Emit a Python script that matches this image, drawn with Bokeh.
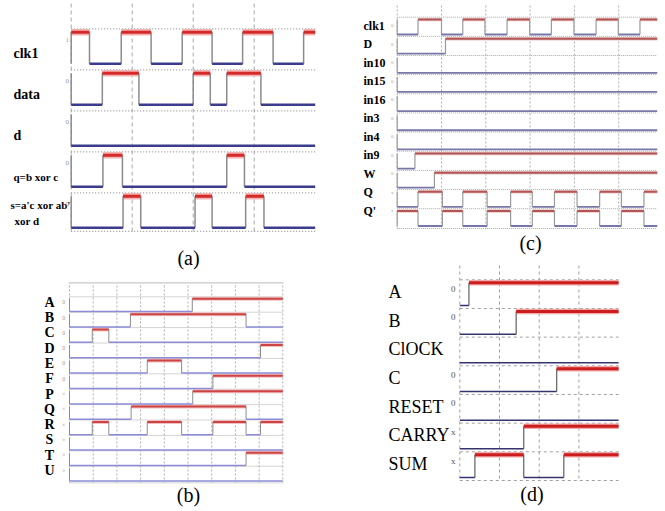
from bokeh.plotting import figure
from bokeh.layouts import row, column
from bokeh.models import Range1d
from bokeh.core.properties import value
from bokeh.embed import file_html
from bokeh.resources import INLINE

# ---------------- data ----------------
# panel (a)
a_labels = ["clk1", "data", "d", "q=b xor c", "s=a'c xor ab'\nxor d"]
a_marks = ["1", "0", "0", "0", "0"]
a_init = [1, 0, 0, 0, 0]
a_edges = [
    [0.30, 0.82, 1.31, 1.82, 2.31, 2.81, 3.31, 3.81],
    [0.51, 1.11, 2.00, 2.28, 2.55, 3.11],
    [],
    [0.52, 0.84, 2.55, 2.84],
    [0.85, 1.14, 2.03, 2.31, 2.86, 3.16],
]
a_tmax = 4.0

# panel (c)
c_labels = ["clk1", "D", "in10", "in15", "in16", "in3", "in4", "in9", "W", "Q", "Q'"]
c_marks = ["0", "0", "0", "0", "0", "0", "0", "0", "0", "x", "x"]
c_init = [0, 0, 0, 0, 0, 0, 0, 0, 0, 0, 1]
c_edges = [
    [0.47, 1.00, 1.48, 1.98, 2.48, 2.99, 3.48, 3.99, 4.49, 4.99, 5.48],
    [1.09],
    [], [], [], [], [],
    [0.40],
    [0.84],
    [0.47, 1.02, 1.48, 2.03, 2.56, 3.05, 3.55, 4.06, 4.57, 5.06, 5.57],
    [0.47, 1.02, 1.48, 2.03, 2.56, 3.05, 3.55, 4.06, 4.57, 5.06, 5.57],
]
c_tmax = 5.87

# panel (b)
b_labels = ["A", "B", "C", "D", "E", "F", "P", "Q", "R", "S", "T", "U"]
b_marks = ["0", "0", "0", "0", "0", "0", "×", "×", "×", "×", "×", "×"]
b_init = [0] * 12
b_edges = [
    [5.18],
    [2.57, 7.45],
    [0.96, 1.66],
    [8.06],
    [3.28, 4.73],
    [6.05],
    [5.20],
    [2.60, 7.45],
    [0.96, 1.66, 3.28, 4.73, 6.05, 7.45, 8.06],
    [],
    [7.45],
    [],
]
b_tmax = 9.0

# panel (d)
d_labels = ["A", "B", "ClOCK", "C", "RESET", "CARRY", "SUM"]
d_marks = ["0", "0", "", "0", "0", "x", "x"]
d_init = [0] * 7
d_edges = [
    [0.23],
    [1.42],
    [],
    [2.44],
    [],
    [1.61],
    [0.38, 1.61, 2.62],
]
d_tmax = 4.0

captions = ["(a)", "(b)", "(c)", "(d)"]

SERIF = value("Liberation Serif")


class Panel:
    def __init__(self, sx, sy, W, H, x0px, xscale, t0px, pitch, hi_off, lo_off):
        self.x0px, self.xscale, self.t0px, self.pitch = x0px, xscale, t0px, pitch
        self.hi_f = hi_off / pitch
        self.lo_f = lo_off / pitch
        p = figure(width=W, height=H, output_backend="svg", toolbar_location=None,
                   x_axis_location=None, y_axis_location=None, min_border=0,
                   title_location=None,
                   x_range=Range1d((sx - x0px) / xscale, (sx + W - x0px) / xscale),
                   y_range=Range1d((sy + H - t0px) / pitch, (sy - t0px) / pitch))
        p.outline_line_color = None
        p.grid.visible = False
        p.background_fill_color = "white"
        p.border_fill_color = "white"
        self.p = p

    def X(self, px):
        return (px - self.x0px) / self.xscale

    def Y(self, py):
        return (py - self.t0px) / self.pitch


def draw_waves(pn, inits, edges, tmax, hi_c, hi_w, glow_c, glow_w, lo_c, lo_w, tr_c, tr_w,
               left_edge=True):
    hx0, hx1, hy = [], [], []
    lx0, lx1, ly = [], [], []
    tx, ty0, ty1 = [], [], []
    for i, (init, ed) in enumerate(zip(inits, edges)):
        yh = i + pn.hi_f
        yl = i + pn.lo_f
        bounds = [0.0] + list(ed) + [tmax]
        lvl = init
        for k in range(len(bounds) - 1):
            if lvl:
                hx0.append(bounds[k]); hx1.append(bounds[k + 1]); hy.append(yh)
            else:
                lx0.append(bounds[k]); lx1.append(bounds[k + 1]); ly.append(yl)
            lvl = 1 - lvl
        vts = ([0.0] if left_edge else []) + list(ed)
        for t in vts:
            tx.append(t); ty0.append(yh); ty1.append(yl)
    p = pn.p
    if glow_c:
        p.segment(x0=hx0, x1=hx1, y0=hy, y1=hy, line_color=glow_c, line_width=glow_w)
    p.segment(x0=tx, x1=tx, y0=ty0, y1=ty1, line_color=tr_c, line_width=tr_w)
    p.segment(x0=lx0, x1=lx1, y0=ly, y1=ly, line_color=lo_c, line_width=lo_w)
    p.segment(x0=hx0, x1=hx1, y0=hy, y1=hy, line_color=hi_c, line_width=hi_w)


def hgrid(pn, nrows, tmax, extra_bottom_px, color, dash, width=1.0):
    ys = list(range(nrows)) + [nrows - 1 + pn.lo_f + extra_bottom_px / pn.pitch]
    pn.p.segment(x0=[0] * len(ys), x1=[tmax] * len(ys), y0=ys, y1=ys,
                 line_color=color, line_dash=dash, line_width=width)


def vgrid(pn, ts, ytop_px, ybot_px, color, dash, width=1.0):
    pn.p.segment(x0=ts, x1=ts, y0=[pn.Y(ytop_px)] * len(ts), y1=[pn.Y(ybot_px)] * len(ts),
                 line_color=color, line_dash=dash, line_width=width)


def put_text(pn, xs_px, ys_px, texts, size, color="black", bold=False, align="left"):
    pn.p.text(x=[pn.X(v) for v in xs_px], y=[pn.Y(v) for v in ys_px], text=texts,
              text_font=SERIF, text_font_size=f"{size}px",
              text_font_style="bold" if bold else "normal",
              text_color=color, text_align=align, text_baseline="middle")


# ---------------- panel (a) ----------------
pa = Panel(0, 0, 330, 270, 70.7, 61.0, 28.3, 41.0, 3.5, 35.0)
vgrid(pa, [0, 1, 2, 3], 3, 232, "#a8a8a8", "4 3")
hgrid(pa, len(a_labels), a_tmax, 3.5, "#9a9a9a", "1 2", 1.2)
draw_waves(pa, a_init, a_edges, a_tmax, "#d42a2a", 3, "#f3b3b3", 6.5,
           "#3c3c8c", 2.5, "#8c8c8c", 1.5)
for i, lab in enumerate(a_labels):
    T = 28.3 + 41.0 * i
    lines = lab.split("\n")
    if len(lines) == 1:
        size = 14 if len(lab) < 6 else 11
        put_text(pa, [13], [T + 25], [lab], size, bold=True)
    else:
        put_text(pa, [10], [T + 12], [lines[0]], 11, bold=True)
        put_text(pa, [14], [T + 28], [lines[1]], 11, bold=True)
put_text(pa, [65] * 5, [28.3 + 41.0 * i + 11.5 for i in range(5)], a_marks, 7, color="#999999")
put_text(pa, [188], [257], [captions[0]], 20, align="center")

# ---------------- panel (c) ----------------
pc = Panel(330, 0, 335, 255, 396.7, 44.3, 16.7, 19.15, 2.3, 17.3)
vgrid(pc, [0, 1, 2, 3, 4, 5], 5, 229, "#b0b0b0", "2 2")
hgrid(pc, len(c_labels), c_tmax, 2.5, "#a8a8a8", "1 1", 1.0)
draw_waves(pc, c_init, c_edges, c_tmax, "#b25555", 2, "#ecc8c8", 3.5,
           "#7878a8", 1.8, "#9a9a9a", 1.2)
ly_c = [25 + 18.5 * i for i in range(len(c_labels))]
put_text(pc, [363] * len(c_labels), ly_c, c_labels, 12, bold=True)
put_text(pc, [391.7] * len(c_labels), ly_c, c_marks, 5, color="#999999", align="center")
put_text(pc, [530], [242], [captions[2]], 20, align="center")

# ---------------- panel (b) ----------------
pb = Panel(0, 270, 330, 241, 69.0, 23.7, 296.3, 15.4, 2.0, 14.7)
pb.p.segment(x0=[pb.X(68)], x1=[pb.X(283)], y0=[pb.Y(282.3)], y1=[pb.Y(282.3)],
             line_color="#c8c8c8", line_width=1.2)
vgrid(pb, list(range(0, 10)), 285, 482, "#b0b0b0", "2 2")
hgrid(pb, len(b_labels), b_tmax, 2.0, "#a8a8a8", "1 1", 1.0)
draw_waves(pb, b_init, b_edges, b_tmax, "#cc4444", 2, "#f2c0c0", 4,
           "#8c8cd8", 1.5, "#8c8c8c", 1.0)
ly_b = [301.7 + 15.3 * i for i in range(len(b_labels))]
put_text(pb, [49] * len(b_labels), ly_b, b_labels, 14, bold=True, align="center")
put_text(pb, [63.3] * len(b_labels), ly_b, b_marks, 6, color="#999999", align="center")
put_text(pb, [188], [494], [captions[1]], 20, align="center")

# ---------------- panel (d) ----------------
pd_ = Panel(330, 255, 335, 256, 459.3, 39.7, 279.3, 28.67, 3.0, 25.7)
vgrid(pd_, [0, 1, 2, 3], 265, 480, "#a0a0a0", "3 3")
hgrid(pd_, len(d_labels), d_tmax, 3.0, "#a0a0a0", "3 3", 1.0)
draw_waves(pd_, d_init, d_edges, d_tmax, "#cc1e1e", 3, "#f0a8a8", 5.5,
           "#34346e", 1.5, "#6c6c6c", 1.3, left_edge=False)
ly_d = [291.7 + 28.6 * i for i in range(len(d_labels))]
put_text(pd_, [388] * len(d_labels), ly_d, d_labels, 18)
put_text(pd_, [452.7] * len(d_labels), [279.3 + 28.67 * i + 9 for i in range(len(d_labels))],
         d_marks, 9, color="#555555", align="center")
put_text(pd_, [531.5], [493], [captions[3]], 20, align="center")

layout = row(column(pa.p, pb.p), column(pc.p, pd_.p))
open("out.html", "w").write(file_html(layout, INLINE))
